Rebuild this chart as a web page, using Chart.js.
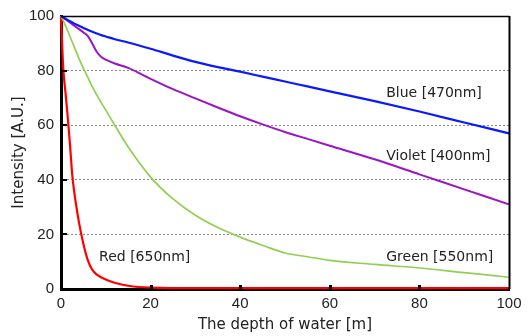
<!DOCTYPE html>
<html><head><meta charset="utf-8">
<script src="https://cdn.jsdelivr.net/npm/chart.js@4/dist/chart.umd.min.js"></script>
<style>html,body{margin:0;padding:0;background:#fff}#wrap{width:530px;height:336px}</style>
</head><body><div id="wrap"><canvas id="c" width="530" height="336"></canvas></div>
<script>
const depth = [0,1,2,3,4,5,6,7,8,9,10,12,15,20,25,30,35,40,45,50,55,60,70,80,90,100];
const blue   = [100,99,98.1,97.2,96.4,95.6,94.9,94.2,93.6,93,92.5,91.5,90.3,88,85.5,83.2,81.3,79.6,77.8,76,74.2,72.4,68.8,65,61,57];
const violet = [100,98.8,97.6,96.4,95.2,94,92.6,89.8,86.8,85,84,82.6,81,77,73.2,69.8,66.5,63.3,60.3,57.5,55,52.5,47.5,42,36.5,31];
const green  = [100,96.5,92.5,88.5,84.5,80.8,77.5,74,71,68.2,65.5,60,52,41,33,27,22.5,19,16,13.2,11.8,10.5,9,7.7,6,4.3];
const redDepth = [0,0.5,1,1.5,2,2.5,3,3.5,4,5,6,7,8,10,12,15,20,30,40,60,80,100];
const red      = [100,81,72,63,53,42,35,29.5,24.5,16.5,10.5,7,5.3,3.5,2.3,1.2,0.5,0.3,0.3,0.3,0.3,0.3];
const xTicks = [0,20,40,60,80,100];
const yTicks = [0,20,40,60,80,100];
const seriesNames = ['Blue [470nm]','Violet [400nm]','Green [550nm]','Red [650nm]'];
// label anchor (data coords) for each series name
const labelAt = [[72.6,71.5],[72.6,48.5],[72.6,11.5],[8.5,11.5]];

const pts = (xs, ys) => xs.map((x,i)=>({x, y: ys[i]}));

const decor = {
  id:'decor',
  afterDraw(chart){
    const {ctx, chartArea:a, scales:{x,y}} = chart;
    ctx.save();
    ctx.strokeStyle='#000';
    ctx.lineWidth=1.5;
    ctx.beginPath();
    ctx.moveTo(a.left, a.top+0.5); ctx.lineTo(a.right+0.5, a.top+0.5);
    ctx.stroke();
    ctx.lineWidth=2;
    ctx.beginPath();
    ctx.moveTo(a.right+0.5, a.top); ctx.lineTo(a.right+0.5, a.bottom);
    ctx.stroke();
    ctx.lineWidth=2;
    yTicks.slice(1,-1).forEach(v=>{
      const py=Math.round(y.getPixelForValue(v));
      ctx.beginPath(); ctx.moveTo(a.left, py); ctx.lineTo(a.left+6, py); ctx.stroke();
    });
    ctx.lineWidth=3;
    xTicks.slice(1,-1).forEach(v=>{
      const px=Math.round(x.getPixelForValue(v))+0.5;
      ctx.beginPath(); ctx.moveTo(px, a.bottom); ctx.lineTo(px, a.bottom-4); ctx.stroke();
    });
    ctx.fillStyle='#222';
    ctx.font='14px "DejaVu Sans"';
    ctx.textBaseline='middle';
    ctx.textAlign='left';
    seriesNames.forEach((t,i)=>{
      ctx.fillText(t, x.getPixelForValue(labelAt[i][0]), y.getPixelForValue(labelAt[i][1]));
    });
    ctx.restore();
  }
};

new Chart(document.getElementById('c'), {
  type:'line',
  data:{datasets:[
    {data:pts(depth,blue), borderColor:'#0a1aff', borderWidth:2.2},
    {data:pts(depth,violet), borderColor:'#9a14c8', borderWidth:2},
    {data:pts(depth,green), borderColor:'#90d050', borderWidth:1.7},
    {data:pts(redDepth,red), borderColor:'#ff0000', borderWidth:2.2}
  ]},
  options:{
    responsive:false, animation:false, devicePixelRatio:1,
    layout:{padding:{top:13,right:21,left:0,bottom:0}},
    elements:{point:{radius:0}, line:{cubicInterpolationMode:'monotone', fill:false}},
    datasets:{line:{clip:5}},
    plugins:{legend:{display:false}, tooltip:{enabled:false}},
    scales:{
      x:{type:'linear', min:0, max:100,
        afterFit(s){s.height=47;},
        afterBuildTicks(s){s.ticks=xTicks.map(v=>({value:v}));},
        grid:{display:false, drawTicks:false},
        border:{display:true, color:'#000', width:3},
        ticks:{font:{family:'Liberation Sans', size:15}, color:'#222', padding:6, maxRotation:0},
        title:{display:true, text:'The depth of water [m]', font:{family:'DejaVu Sans', size:15}, color:'#222', padding:{top:0,bottom:2}}
      },
      y:{type:'linear', min:0, max:100,
        afterFit(s){s.width=61;},
        afterBuildTicks(s){s.ticks=yTicks.map(v=>({value:v}));},
        grid:{drawTicks:false, lineWidth:1,
          color:c=> (c.tick && (c.tick.value===0||c.tick.value===100)) ? 'rgba(0,0,0,0)' : '#888'},
        border:{display:true, color:'#000', width:3, dash:[2,2]},
        ticks:{font:{family:'Liberation Sans', size:15}, color:'#222', padding:7},
        title:{display:true, text:'Intensity [A.U.]', font:{family:'DejaVu Sans', size:15}, color:'#222', padding:{top:10,bottom:0}}
      }
    }
  },
  plugins:[decor]
});
</script>
</body></html>
